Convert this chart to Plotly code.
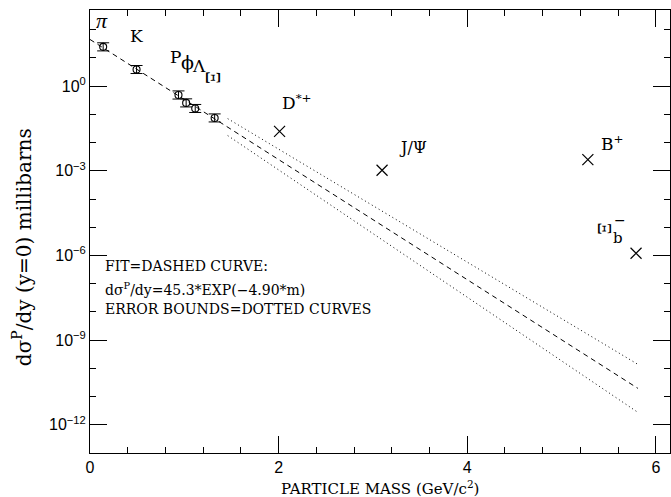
import plotly.graph_objects as go

# ---------------- data ----------------
meson_names = ["π", "K", "P", "φ", "Λ", "Ξ"]
meson_mass = [0.1396, 0.4937, 0.9383, 1.0195, 1.1157, 1.3217]
meson_xsec = [24.8, 3.91, 0.49, 0.256, 0.162, 0.075]
meson_err_plus = [9.7, 1.5, 0.19, 0.10, 0.063, 0.029]
meson_err_minus = [7.0, 1.1, 0.14, 0.072, 0.045, 0.021]

heavy_names = ["D*+", "J/Ψ", "B+", "Ξb-"]
heavy_mass = [2.010, 3.097, 5.279, 5.79]
heavy_xsec = [0.025, 1.05e-3, 2.5e-3, 1.2e-6]

fit_mass = [0.0, 5.81]
fit_xsec = [45.3, 1.95e-11]
upper_mass = [1.46, 5.81]
upper_xsec = [0.0708, 1.38e-10]
lower_mass = [1.46, 5.81]
lower_xsec = [0.0178, 2.75e-12]

x_major = [0, 2, 4, 6]
x_minor = [0.4, 0.8, 1.2, 1.6, 2.4, 2.8, 3.2, 3.6, 4.4, 4.8, 5.2, 5.6]
y_major = [1e0, 1e-3, 1e-6, 1e-9, 1e-12]
y_major_text = ["10<sup>0</sup>", "10<sup>−3</sup>", "10<sup>−6</sup>", "10<sup>−9</sup>", "10<sup>−12</sup>"]
y_minor = [1e2, 1e1, 1e-1, 1e-2, 1e-4, 1e-5, 1e-7, 1e-8, 1e-10, 1e-11, 1e-13]

SERIF = "DejaVu Serif"
SANS = "Liberation Sans"

fig = go.Figure()

fig.add_trace(go.Scatter(x=fit_mass, y=fit_xsec, mode="lines",
                         line=dict(color="black", width=1, dash="5px,4px"),
                         showlegend=False, hoverinfo="skip"))
fig.add_trace(go.Scatter(x=upper_mass, y=upper_xsec, mode="lines",
                         line=dict(color="black", width=1, dash="1px,3px"),
                         showlegend=False, hoverinfo="skip"))
fig.add_trace(go.Scatter(x=lower_mass, y=lower_xsec, mode="lines",
                         line=dict(color="black", width=1, dash="1px,3px"),
                         showlegend=False, hoverinfo="skip"))

fig.add_trace(go.Scatter(
    x=meson_mass, y=meson_xsec, mode="markers",
    marker=dict(symbol="circle-open", size=7, color="black", line=dict(width=1.1)),
    error_y=dict(type="data", array=meson_err_plus, arrayminus=meson_err_minus,
                 symmetric=False, color="black", thickness=1, width=6),
    showlegend=False))

fig.add_trace(go.Scatter(
    x=heavy_mass, y=heavy_xsec, mode="markers",
    marker=dict(symbol="x-thin-open", size=11, color="black", line=dict(width=1.2, color="black")),
    showlegend=False))

ann = []
def lab(x, ly, text, size=17, angle=0, xanchor="center", font=SERIF):
    ann.append(dict(x=x, y=ly, xref="x", yref="y", text=text, showarrow=False,
                    textangle=angle, xanchor=xanchor, yanchor="middle",
                    font=dict(family=font, size=size, color="black")))

lab(0.127, 2.34, "<i>π</i>", size=22, font="Liberation Serif")
lab(0.498, 1.77, "K", size=17)
lab(0.905, 1.03, "P", size=17)
lab(1.03, 0.85, "ϕ", size=19)
lab(1.16, 0.71, "Λ", size=17)
lab(1.31, 0.30, "Ξ", size=20, angle=90, font="Liberation Serif")
lab(2.195, -0.57, "D<sup>*+</sup>", size=17)
lab(3.425, -2.16, "J/Ψ", size=16)
lab(5.535, -2.02, "B<sup>+</sup>", size=17)
lab(5.46, -5.04, "Ξ", size=19, angle=90, font="Liberation Serif")
lab(5.60, -5.39, "b", size=15)
lab(5.62, -4.75, "−", size=14)

lab(0.138, -6.37, "FIT=DASHED CURVE:", size=14, xanchor="left")
lab(0.138, -7.18, "dσ<sup>P</sup>/dy=45.3*EXP(−4.90*m)", size=14, xanchor="left")
lab(0.138, -7.90, "ERROR BOUNDS=DOTTED CURVES", size=14, xanchor="left")

ann.append(dict(x=0.5, y=-0.079, xref="paper", yref="paper", showarrow=False,
                text="PARTICLE MASS (GeV/c<sup>2</sup>)", xanchor="center", yanchor="middle",
                font=dict(family=SERIF, size=15, color="black")))
ann.append(dict(x=-0.117, y=0.465, xref="paper", yref="paper", showarrow=False,
                text="dσ<sup>P</sup>/dy (y=0) millibarns", textangle=-90,
                xanchor="center", yanchor="middle",
                font=dict(family=SERIF, size=20, color="black")))

fig.update_layout(
    width=671, height=497,
    margin=dict(l=90, r=1, t=10, b=44),
    plot_bgcolor="white", paper_bgcolor="white",
    annotations=ann,
    xaxis=dict(range=[0, 6.15], showgrid=False, zeroline=False,
               showline=True, linecolor="black", linewidth=1, mirror="ticks",
               ticks="inside", ticklen=17, tickcolor="black", tickwidth=1,
               tickvals=x_major, ticktext=[str(v) for v in x_major],
               tickfont=dict(family=SANS, size=16, color="black"),
               minor=dict(ticks="inside", ticklen=6, tickcolor="black", tickwidth=1,
                          tickvals=x_minor, showgrid=False)),
    yaxis=dict(type="log", range=[-13, 2.7], showgrid=False, zeroline=False,
               showline=True, linecolor="black", linewidth=1, mirror="ticks",
               ticks="inside", ticklen=17, tickcolor="black", tickwidth=1,
               tickvals=y_major, ticktext=y_major_text,
               tickfont=dict(family=SANS, size=16, color="black"),
               minor=dict(ticks="inside", ticklen=6, tickcolor="black", tickwidth=1,
                          tickvals=y_minor, showgrid=False)),
)

fig.write_html("out.html", config={"displayModeBar": False},
               post_script="document.body.style.margin='0';document.body.style.overflow='hidden';")
